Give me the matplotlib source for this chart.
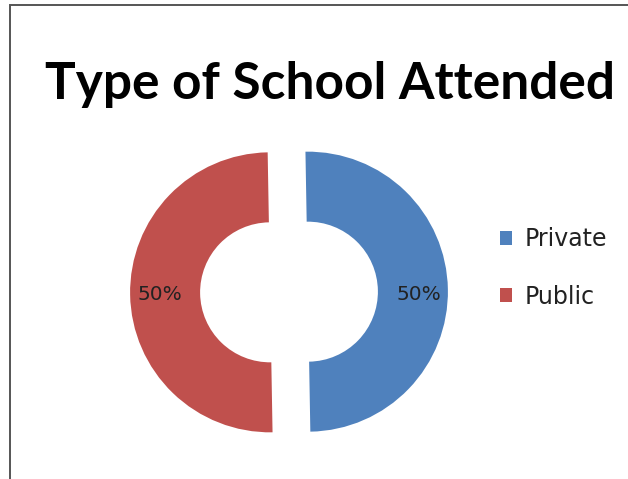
import matplotlib.pyplot as plt
from matplotlib.patches import Rectangle

# Doughnut data
school_types = ['Private', 'Public']
shares = [50, 50]
colors = ['#4F81BD', '#C0504D']

fig = plt.figure(figsize=(6.28, 4.79), dpi=100)

# chart frame (only left/top edges show)
fig.patches.append(Rectangle((10 / 628, -0.1), 1.2, 1 - 5 / 479 + 0.1,
                             transform=fig.transFigure, fill=False,
                             edgecolor='#555555', linewidth=1.4))

fig.text(330 / 628, 1 - 84 / 479, 'Type of School Attended', ha='center', va='center',
         fontsize=37, fontweight='bold', family='Lato', color='black')

# ring axes: 1 data unit = 140 px
ax = fig.add_axes([121 / 628, (479 - 460) / 479, 336 / 628, 336 / 479])
wedges, texts, autotexts = ax.pie(
    shares, colors=colors, startangle=91, counterclock=False,
    explode=[0.135, 0.135], radius=1.0, autopct='%d%%', pctdistance=0.79,
    wedgeprops=dict(width=0.5, linewidth=0),
    textprops=dict(fontsize=14.5, color='#222222'))
# keep both percentage labels on the same baseline
for t in autotexts:
    x, _ = t.get_position()
    t.set_position((x, -0.02))
ax.set_xlim(-1.2, 1.2)
ax.set_ylim(-1.2, 1.2)
ax.set_aspect('equal')
ax.axis('off')

fig.legend(wedges, school_types, loc='center left',
           bbox_to_anchor=(479 / 628, 1 - 268 / 479), frameon=False,
           fontsize=17, handlelength=0.5, handleheight=0.5, handletextpad=0.55,
           labelspacing=1.4, labelcolor='#222222')

fig.savefig('out.png', dpi=100, facecolor='white')
